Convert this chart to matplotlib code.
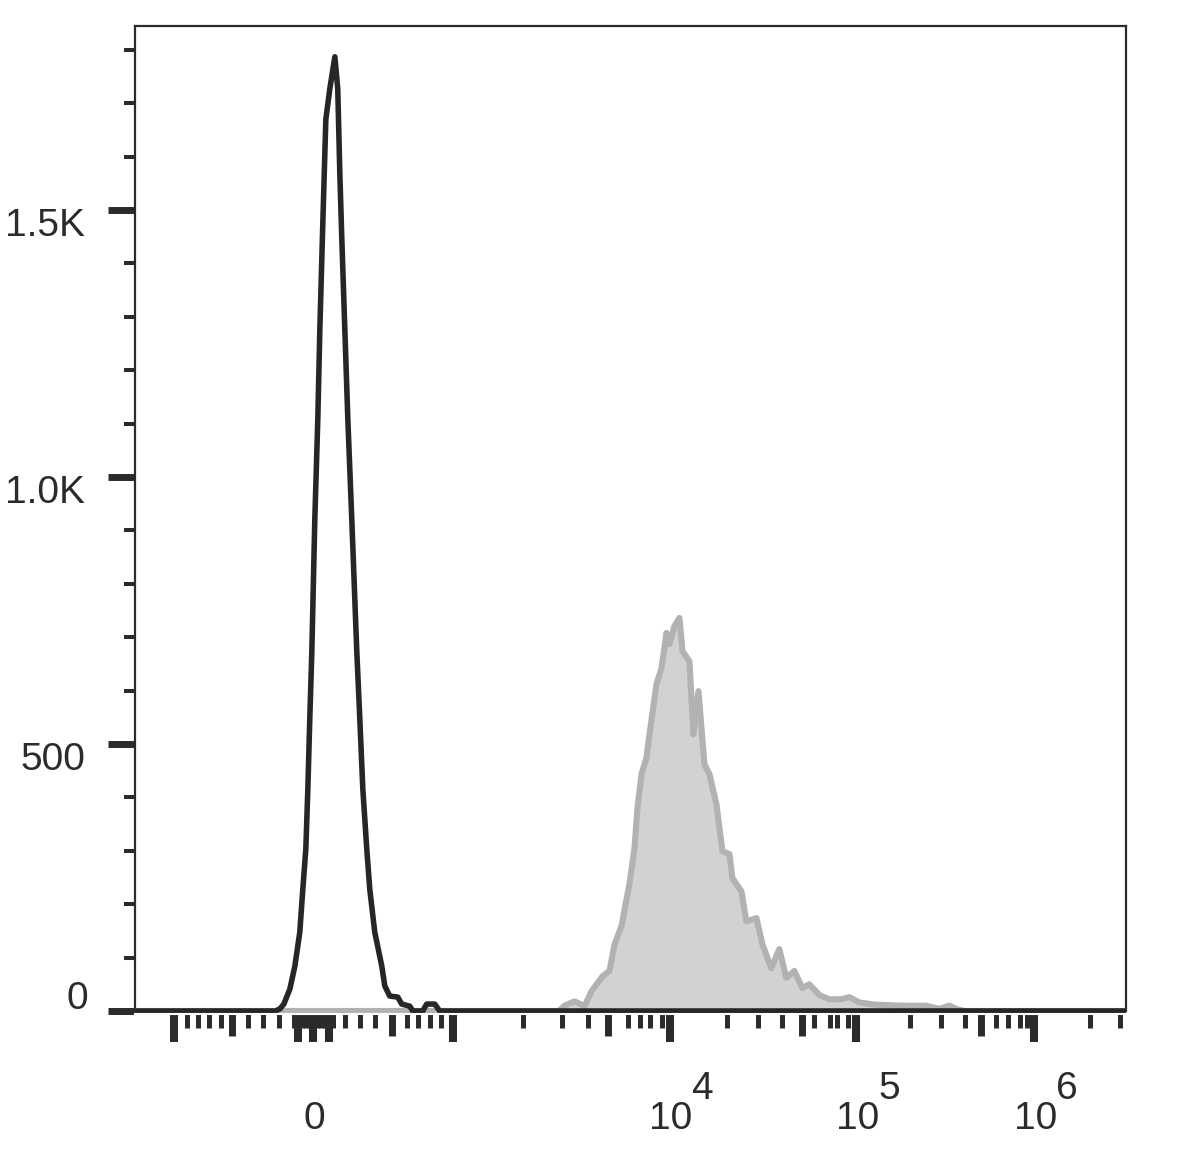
import matplotlib
matplotlib.use('Agg')
import matplotlib.pyplot as plt

plt.rcParams['font.family'] = ['Liberation Sans', 'DejaVu Sans']

# ---- data (x in display channels 0-1024 of the biexponential axis, y = counts) ----
black_x = [0, 145.0, 149.7, 153.8, 160.0, 165.2, 170.3, 173.4, 176.5, 178.6, 180.6, 182.7,
           185.8, 188.9, 191.0, 194.1, 197.2, 201.3, 206.5, 209.5, 211.6, 213.7,
           216.8, 219.9, 224.0, 229.2, 232.3, 235.4, 239.5, 242.6, 247.7, 255.0,
           258.1, 263.2, 271.5, 275.6, 283.9, 287.0, 297.3, 301.4, 309.7, 314.8, 1024]
black_y = [0, 0, 4, 13, 41, 84, 148, 228, 303, 416, 547, 672,
           921, 1109, 1277, 1478, 1670, 1727, 1787, 1727, 1571, 1446,
           1277, 1109, 921, 672, 547, 416, 303, 228, 148, 84,
           47, 28, 26, 13, 9, 0, 0, 13, 13, 0, 0]

gray_x = [0, 438.0, 443.9, 454.2, 464.5, 471.7, 483.1, 490.3, 495.5, 502.7, 511.0, 516.1,
          519.2, 523.4, 528.5, 531.6, 538.8, 544.0, 549.2, 552.2, 557.4, 562.6,
          565.7, 572.9, 577.0, 582.2, 588.4, 593.5, 600.8, 607.0, 614.2, 617.3,
          626.6, 631.7, 642.1, 648.3, 657.5, 665.8, 673.0, 681.3, 689.6, 696.8,
          707.1, 717.4, 729.8, 738.1, 748.4, 763.9, 789.7, 817.5, 831.0, 841.3,
          848.5, 856.8, 1024]
gray_y = [0, 0, 10, 18, 9, 37, 65, 75, 125, 159, 239, 305,
          380, 444, 474, 518, 612, 642, 708, 687, 721, 736,
          674, 655, 518, 599, 462, 444, 387, 299, 294, 249,
          224, 168, 174, 125, 80, 116, 62, 75, 43, 50,
          30, 22, 22, 26, 16, 12, 10, 10, 4, 10,
          4, 0, 0]

y_major = [0, 500, 1000, 1500]
y_labels = ['0', '500', '1.0K', '1.5K']
y_minor = [100, 200, 300, 400, 600, 700, 800, 900, 1100, 1200, 1300, 1400, 1600, 1700, 1800]

x_major = [40.3, 168.3, 183.7, 200.3, 328.3, 552.3, 745.3, 929.0]
x_medium = [100.1, 265.3, 488.3, 689.6, 874.3]
x_minor = [53.7, 65.0, 76.4, 88.8, 116.6, 132.1, 148.6, 164.1, 172.4, 176.5, 180.6,
           187.9, 192.0, 196.1, 204.4, 216.8, 232.3, 247.7, 280.8, 292.1, 304.5, 315.9,
           400.5, 440.8, 467.6, 508.9, 521.3, 532.6, 545.0, 612.1, 644.1, 668.9,
           701.9, 718.5, 725.7, 737.0, 801.0, 833.0, 857.8, 889.8, 902.2, 914.6,
           921.8, 986.8, 1017.8]
x_label_pos = [183.7, 552.3, 745.3, 929.0]
x_label_base = ['0', '10', '10', '10']
x_label_exp = ['', '4', '5', '6']

INK = '#2b2b2b'

fig = plt.figure(figsize=(11.8, 11.7), dpi=100)
ax = fig.add_axes([0.11441, 0.13590, 0.83983, 0.84188])
ax.set_xlim(0, 1024)
ax.set_ylim(0, 1844.6)

# histograms
ax.fill_between(gray_x, gray_y, 0, color='#d2d2d2', lw=0, zorder=2)
ax.plot(gray_x, gray_y, color='#b2b2b4', lw=4.4, clip_on=False,
        solid_capstyle='butt', zorder=3)
ax.plot(black_x, black_y, color='#262626', lw=4.0, clip_on=False,
        solid_capstyle='butt', zorder=4)

# spines
for s in ['left', 'top', 'right']:
    ax.spines[s].set_color(INK)
    ax.spines[s].set_linewidth(1.6)
ax.spines['bottom'].set_color('white')
ax.spines['bottom'].set_linewidth(1.5)
ax.spines['bottom'].set_position(('outward', 2.2))
ax.spines['bottom'].set_zorder(5)

# y ticks
ax.set_yticks(y_major)
ax.set_yticks(y_minor, minor=True)
ax.set_yticklabels([])
ax.tick_params(axis='y', which='major', direction='out', length=19.4, width=5.0, color=INK)
ax.tick_params(axis='y', which='minor', direction='out', length=8.0, width=2.9, color=INK)

for v, lab in zip(y_major, y_labels):
    if v == 0:
        off = (-33.8, 1.4)
    else:
        off = (-36.0, -18.7)
    ax.annotate(lab, xy=(0, v), xycoords=('axes fraction', 'data'), xytext=off,
                textcoords='offset points', ha='right', va='baseline',
                fontsize=28, color=INK, annotation_clip=False)

# x ticks
ax.set_xticks(x_major)
ax.set_xticks(x_minor, minor=True)
ax.set_xticklabels([])
ax.tick_params(axis='x', which='major', direction='out', length=20.5, width=5.8, color=INK)
ax.tick_params(axis='x', which='minor', direction='out', length=9.8, width=3.6, color=INK)

sec = ax.secondary_xaxis('bottom')
sec.set_xticks(x_medium)
sec.set_xticklabels([])
sec.tick_params(axis='x', which='major', direction='out', length=15.5, width=5.0, color=INK)
sec.tick_params(axis='x', which='minor', length=0)
sec.spines['bottom'].set_visible(False)
sec.spines['bottom'].set_position(('outward', 2.2))

for xp, b, e in zip(x_label_pos, x_label_base, x_label_exp):
    ax.annotate(b, xy=(xp, 0), xycoords=('data', 'axes fraction'), xytext=(1.0, -85.0),
                textcoords='offset points', ha='center', va='baseline',
                fontsize=28, color=INK, annotation_clip=False)
    if e:
        ax.annotate(e, xy=(xp, 0), xycoords=('data', 'axes fraction'), xytext=(15.8, -63.4),
                    textcoords='offset points', ha='left', va='baseline',
                    fontsize=28, color=INK, annotation_clip=False)

fig.savefig('out.png', dpi=100, facecolor='white')
